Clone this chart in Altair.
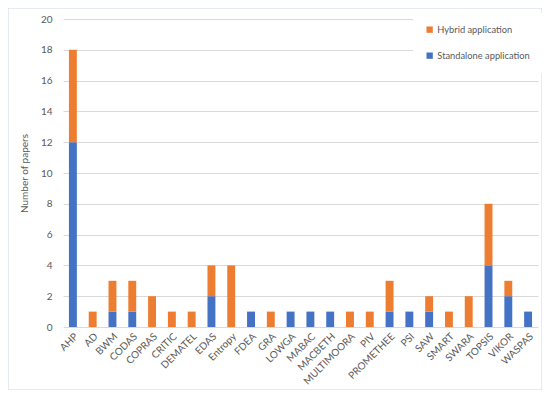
import altair as alt
import pandas as pd

methods = ["AHP", "AD", "BWM", "CODAS", "COPRAS", "CRITIC", "DEMATEL", "EDAS", "Entropy",
           "FDEA", "GRA", "LOWGA", "MABAC", "MACBETH", "MULTIMOORA", "PIV", "PROMETHEE",
           "PSI", "SAW", "SMART", "SWARA", "TOPSIS", "VIKOR", "WASPAS"]
standalone = [12, 0, 1, 1, 0, 0, 0, 2, 0, 1, 0, 1, 1, 1, 0, 0, 1, 1, 1, 0, 0, 4, 2, 1]
hybrid = [6, 1, 2, 2, 2, 1, 1, 2, 4, 0, 1, 0, 0, 0, 1, 1, 2, 0, 1, 1, 2, 4, 1, 0]
series = ["Hybrid application", "Standalone application"]
colors = ["#ED7D31", "#4472C4"]
y_ticks = list(range(0, 21, 2))

rows = []
for m, s, h in zip(methods, standalone, hybrid):
    rows.append({"method": m, "series": "Standalone application", "value": s, "ord": 0})
    rows.append({"method": m, "series": "Hybrid application", "value": h, "ord": 1})
df = pd.DataFrame(rows)

W, H = 475, 308
FONT = "Lato"
GRAY = "#595959"

bars = alt.Chart(df).mark_bar().encode(
    x=alt.X("method:N", sort=methods,
            scale=alt.Scale(paddingInner=0.6, paddingOuter=0.3),
            axis=alt.Axis(title=None, labelAngle=-45, labelColor=GRAY, labelFont=FONT,
                          labelFontSize=10, ticks=False, domain=False, labelPadding=4)),
    y=alt.Y("value:Q", stack="zero",
            scale=alt.Scale(domain=[0, 20]),
            axis=alt.Axis(title="Number of papers", values=y_ticks, labelColor=GRAY,
                          labelFont=FONT, labelFontSize=10, ticks=False, domain=False,
                          gridColor="#D9D9D9", labelPadding=11, titleFont=FONT,
                          titleFontSize=10, titleFontWeight="normal", titleColor=GRAY,
                          titlePadding=11)),
    color=alt.Color("series:N",
                    scale=alt.Scale(domain=series, range=colors),
                    legend=alt.Legend(title=None, orient="none", legendX=350, legendY=-6,
                                      fillColor="white", padding=12, symbolType="square",
                                      symbolSize=40, symbolStrokeWidth=0, labelFont=FONT,
                                      labelFontSize=9.3, labelColor=GRAY, rowPadding=16,
                                      labelOffset=3)),
    order=alt.Order("ord:Q"),
)

frame = alt.Chart(alt.Data(values=[{}])).mark_rect(
    fill=None, stroke="#CDD5E4", strokeWidth=1
).encode(
    x=alt.value(-55), x2=alt.value(W + 4),
    y=alt.value(-11), y2=alt.value(H + 63),
)

chart = alt.layer(bars, frame).properties(
    width=W, height=H,
    autosize=alt.AutoSizeParams(type="none"),
    padding={"left": 55, "top": 11, "right": 4, "bottom": 63},
).configure_view(stroke=None)

chart.save("out.html", embed_options={"renderer": "svg", "actions": False})
